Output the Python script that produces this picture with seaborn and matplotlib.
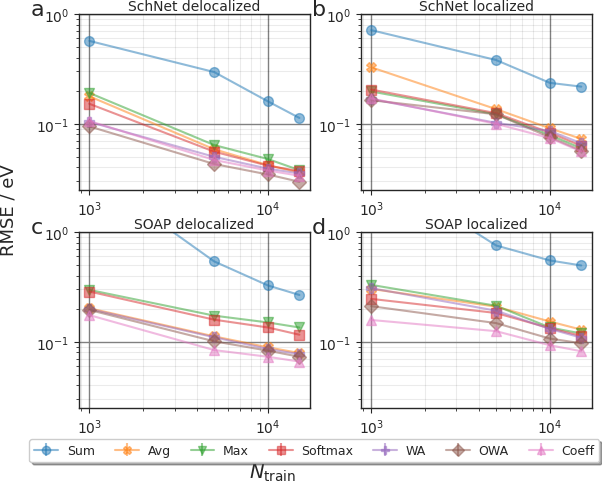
import numpy as np
import pandas as pd
import matplotlib
matplotlib.use("Agg")
import matplotlib.pyplot as plt
import seaborn as sns

n_train = [1000, 5000, 10000, 15000]
methods = ["Sum", "Avg", "Max", "Softmax", "WA", "OWA", "Coeff"]
markers = ["o", "X", "v", "s", "P", "D", "^"]
titles = ["SchNet delocalized", "SchNet localized", "SOAP delocalized", "SOAP localized"]
letters = ["a", "b", "c", "d"]

# RMSE values per panel, per method
schnet_deloc = {
    "Sum":     [0.569, 0.296, 0.160, 0.113],
    "Avg":     [0.178, 0.0586, 0.0420, 0.0360],
    "Max":     [0.191, 0.0640, 0.0477, 0.0378],
    "Softmax": [0.152, 0.0557, 0.0415, 0.0370],
    "WA":      [0.104, 0.0500, 0.0390, 0.0353],
    "OWA":     [0.0946, 0.0430, 0.0345, 0.0296],
    "Coeff":   [0.106, 0.0468, 0.0375, 0.0336],
}
schnet_loc = {
    "Sum":     [0.713, 0.381, 0.236, 0.218],
    "Avg":     [0.327, 0.136, 0.091, 0.0728],
    "Max":     [0.197, 0.122, 0.079, 0.0598],
    "Softmax": [0.205, 0.125, 0.083, 0.0630],
    "WA":      [0.168, 0.102, 0.086, 0.0665],
    "OWA":     [0.164, 0.122, 0.0755, 0.0569],
    "Coeff":   [0.170, 0.100, 0.074, 0.0560],
}
soap_deloc = {
    "Sum":     [3.5, 0.540, 0.326, 0.267],
    "Avg":     [0.202, 0.112, 0.089, 0.079],
    "Max":     [0.297, 0.173, 0.150, 0.135],
    "Softmax": [0.287, 0.159, 0.135, 0.116],
    "WA":      [0.199, 0.110, 0.086, 0.077],
    "OWA":     [0.195, 0.101, 0.083, 0.073],
    "Coeff":   [0.175, 0.084, 0.073, 0.066],
}
soap_loc = {
    "Sum":     [4.0, 0.755, 0.551, 0.496],
    "Avg":     [0.303, 0.209, 0.153, 0.129],
    "Max":     [0.330, 0.213, 0.135, 0.119],
    "Softmax": [0.246, 0.183, 0.133, 0.113],
    "WA":      [0.308, 0.192, 0.131, 0.109],
    "OWA":     [0.211, 0.148, 0.107, 0.097],
    "Coeff":   [0.158, 0.125, 0.093, 0.082],
}
panels = [schnet_deloc, schnet_loc, soap_deloc, soap_loc]

sns.set_style("ticks")
plt.rcParams["font.family"] = ["DejaVu Sans"]
palette = sns.color_palette("tab10", len(methods))

fig, axes = plt.subplots(2, 2, figsize=(6.02, 4.85), dpi=100)
fig.subplots_adjust(left=0.131, right=0.983, top=0.969, bottom=0.157,
                    wspace=0.22, hspace=0.24)

for ax, data, title, letter in zip(axes.flat, panels, titles, letters):
    rows = []
    for m in methods:
        for x, y in zip(n_train, data[m]):
            rows.append({"N": x, "RMSE": y, "method": m})
    df = pd.DataFrame(rows)
    sns.lineplot(data=df, x="N", y="RMSE", hue="method", style="method",
                 hue_order=methods, style_order=methods,
                 palette=palette, markers=dict(zip(methods, markers)),
                 dashes=False, alpha=0.5, markersize=7, linewidth=1.5,
                 markeredgewidth=1.0, legend=False, ax=ax)
    for ln in ax.get_lines():
        ln.set_markeredgecolor(ln.get_color())
    ax.set_xscale("log")
    ax.set_yscale("log")
    ax.set_ylim(0.025, 1)
    ax.set_xlabel("")
    ax.set_ylabel("")
    ax.set_title(title, fontsize=10, pad=3)
    ax.grid(which="major", color="0.5", linewidth=1.0)
    ax.grid(which="minor", color="black", alpha=0.08, linewidth=0.8)
    ax.set_axisbelow(True)
    ax.tick_params(labelsize=10)
    ax.text(-0.18, 1.03, letter, transform=ax.transAxes, fontsize=16,
            ha="center", va="center")
    for s in ax.spines.values():
        s.set_linewidth(1.0)
        s.set_color("0.15")

# legend proxies in errorbar style
handles = []
for m, mk, c in zip(methods, markers, palette):
    h = axes[1, 1].errorbar([np.nan], [np.nan], yerr=[0.0], color=c, marker=mk,
                            alpha=0.5, markersize=6, label=m)
    handles.append(h)
leg = fig.legend(handles=handles, labels=methods, ncol=7, loc="center",
                 bbox_to_anchor=(0.5224, 0.069), shadow=True, fontsize=9,
                 handlelength=1.9, columnspacing=1.6, handletextpad=0.7,
                 borderpad=0.4, frameon=True, fancybox=True)
leg.get_frame().set_edgecolor("0.8")
leg.get_frame().set_facecolor("white")

fig.text(0.014, 0.567, "RMSE / eV", rotation=90, fontsize=13,
         ha="center", va="center")
fig.text(0.453, 0.025, r"$N_{\mathrm{train}}$", fontsize=14,
         ha="center", va="center")

fig.savefig("out.png", dpi=100)
